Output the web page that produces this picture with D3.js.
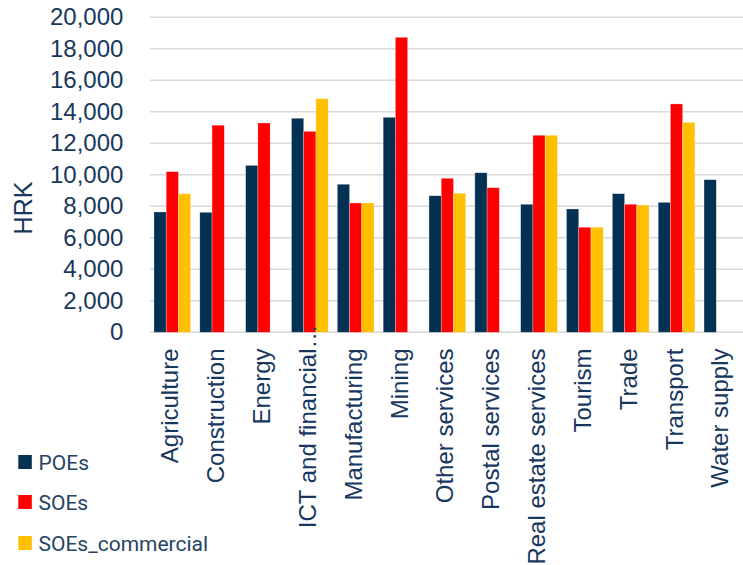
<!DOCTYPE html>
<html>
<head>
<meta charset="utf-8">
<script src="https://cdn.jsdelivr.net/npm/d3@7/dist/d3.min.js"></script>
<style>
  html, body { margin: 0; padding: 0; background: #ffffff; }
  svg { display: block; }
</style>
</head>
<body>
<svg id="chart" width="743" height="565"></svg>
<script>
// Average monthly pay by sector, HRK
const categories = ["Agriculture", "Construction", "Energy", "ICT and financial…", "Manufacturing",
  "Mining", "Other services", "Postal services", "Real estate services", "Tourism", "Trade",
  "Transport", "Water supply"];
const seriesNames = ["POEs", "SOEs", "SOEs_commercial"];
const poes = [7640, 7620, 10600, 13590, 9400, 13650, 8670, 10130, 8130, 7830, 8800, 8250, 9690];
const soes = [10200, 13150, 13290, 12760, 8210, 18730, 9780, 9180, 12510, 6670, 8130, 14500, null];
const soesCommercial = [8800, null, null, 14830, 8210, null, 8830, null, 12510, 6670, 8080, 13330, null];
const yTicks = [0, 2000, 4000, 6000, 8000, 10000, 12000, 14000, 16000, 18000, 20000];
const yTitle = "HRK";

const colors = ["#033153", "#ff0000", "#ffc000"];
const textColor = "#17375e";

const svg = d3.select("#chart");
const plot = { left: 149.4, right: 745.3, top: 17.3, bottom: 332.3 };

const x = d3.scaleBand().domain(categories).range([plot.left, plot.right]).paddingInner(0.2).paddingOuter(0.1);
const x1 = d3.scaleBand().domain(seriesNames).range([0, x.bandwidth()]);
const y = d3.scaleLinear().domain([0, 20000]).range([plot.bottom, plot.top]);

// gridlines
svg.append("g")
  .selectAll("line")
  .data(yTicks)
  .join("line")
  .attr("x1", 150).attr("x2", 743)
  .attr("y1", d => y(d)).attr("y2", d => y(d))
  .attr("stroke", "#d9d9d9")
  .attr("stroke-width", 1.4);

// y axis labels
const yAxis = d3.axisLeft(y).tickValues(yTicks).tickFormat(d3.format(",")).tickSize(0).tickPadding(26);
const yg = svg.append("g").attr("transform", `translate(${plot.left},0)`).call(yAxis);
yg.select(".domain").remove();
yg.selectAll("text")
  .attr("font-family", "Liberation Sans, Arial, sans-serif")
  .attr("font-size", 24)
  .attr("fill", textColor);

// y title
svg.append("text")
  .attr("transform", "translate(32,208) rotate(-90)")
  .attr("text-anchor", "middle")
  .attr("font-family", "Liberation Sans, Arial, sans-serif")
  .attr("font-size", 25)
  .attr("fill", textColor)
  .text(yTitle);

// bars
const table = categories.map((c, i) => ({
  category: c,
  values: [poes[i], soes[i], soesCommercial[i]]
}));
const groups = svg.append("g")
  .selectAll("g")
  .data(table)
  .join("g")
  .attr("transform", d => `translate(${x(d.category)},0)`);
groups.selectAll("rect")
  .data(d => d.values.map((v, j) => ({ name: seriesNames[j], value: v, color: colors[j] })).filter(e => e.value != null))
  .join("rect")
  .attr("x", d => x1(d.name))
  .attr("width", x1.bandwidth())
  .attr("y", d => y(d.value))
  .attr("height", d => y(0) - y(d.value))
  .attr("fill", d => d.color)
  .attr("stroke", "#ffffff")
  .attr("stroke-opacity", 0.45)
  .attr("stroke-width", 0.6);

// category labels, rotated
const labelTop = 348.5;
const xl = svg.append("g");
categories.forEach(c => {
  const cx = x(c) + x.bandwidth() / 2;
  const truncated = c.endsWith("…");
  const main = truncated ? c.slice(0, -1) : c;
  const g = xl.append("g").attr("transform", `translate(${cx + 6},${labelTop}) rotate(-90)`);
  g.append("text")
    .attr("text-anchor", "end")
    .attr("font-family", "Liberation Sans, Arial, sans-serif")
    .attr("font-size", 24)
    .attr("fill", textColor)
    .text(main);
  if (truncated) {
    g.append("text")
      .attr("text-anchor", "start")
      .attr("font-family", "Liberation Sans, Arial, sans-serif")
      .attr("font-size", 24)
      .attr("fill", textColor)
      .text("…");
  }
});

// legend
const legend = svg.append("g");
const legendY = [462, 502, 543];
seriesNames.forEach((name, i) => {
  legend.append("rect")
    .attr("x", 18.3).attr("y", legendY[i] - 7)
    .attr("width", 13.5).attr("height", 14)
    .attr("fill", colors[i]);
  legend.append("text")
    .attr("x", 38.5).attr("y", legendY[i])
    .attr("dy", "0.36em")
    .attr("font-family", "Roboto, sans-serif")
    .attr("font-size", 21)
    .attr("fill", "#244463")
    .text(name);
});
</script>
</body>
</html>
